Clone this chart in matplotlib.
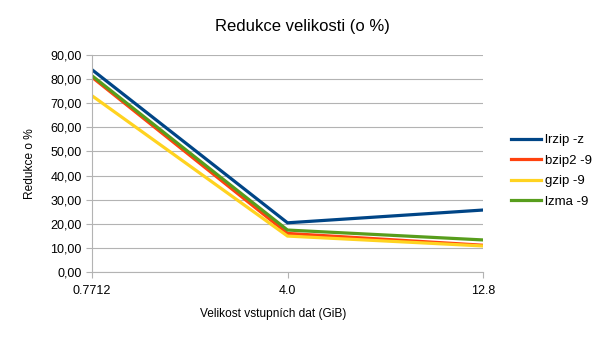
import matplotlib.pyplot as plt
from matplotlib.ticker import FuncFormatter

plt.rcParams['font.family'] = ['Liberation Sans', 'DejaVu Sans']

# Data
sizes = ['0.7712', '4.0', '12.8']
lrzip = [83.9, 20.4, 25.7]
bzip2 = [80.8, 16.0, 11.1]
gzip = [73.1, 14.9, 10.8]
lzma = [81.4, 17.4, 13.3]

series = [('lrzip -z', lrzip, '#004586'),
          ('bzip2 -9', bzip2, '#ff420e'),
          ('gzip -9', gzip, '#ffd320'),
          ('lzma -9', lzma, '#579d1c')]

W, H = 605, 340
fig = plt.figure(figsize=(W / 100, H / 100), dpi=100)
ax = fig.add_axes([92 / W, 1 - 272 / H, (483 - 92) / W, (272 - 55) / H])

x = range(len(sizes))
for name, vals, col in series:
    ax.plot(x, vals, color=col, lw=2.3, label=name, solid_joinstyle='miter')

ax.set_xlim(0, len(sizes) - 1)
ax.set_ylim(0, 90)
ax.set_xticks(list(x))
ax.set_xticklabels(sizes)
ax.set_yticks(range(0, 91, 10))
ax.yaxis.set_major_formatter(FuncFormatter(lambda v, p: ('%.2f' % v).replace('.', ',')))

ax.grid(axis='y', color='#b3b3b3', lw=0.8)
ax.set_axisbelow(True)
for s in ['top', 'right']:
    ax.spines[s].set_visible(False)
for s in ['left', 'bottom']:
    ax.spines[s].set_color('#b3b3b3')
ax.tick_params(colors='#b3b3b3', labelcolor='black', labelsize=9, length=4)
ax.tick_params(axis='x', pad=5)

# title, axis labels placed in figure pixels like the original
fig.text(302 / W, 1 - 26 / H, 'Redukce velikosti (o %)', fontsize=12,
         ha='center', va='center')
fig.text(273 / W, 1 - 314 / H, 'Velikost vstupních dat (GiB)', fontsize=8.6,
         ha='center', va='center')
fig.text(30 / W, 1 - 164 / H, 'Redukce o %', fontsize=8.6, rotation=90,
         ha='center', va='center')

fig.legend(loc='center left', bbox_to_anchor=(511 / W, 1 - 171 / H),
           frameon=False, borderpad=0, borderaxespad=0,
           fontsize=9.5, handlelength=2.3, handletextpad=0.3, labelspacing=0.62)

fig.savefig('out.png', dpi=100)
